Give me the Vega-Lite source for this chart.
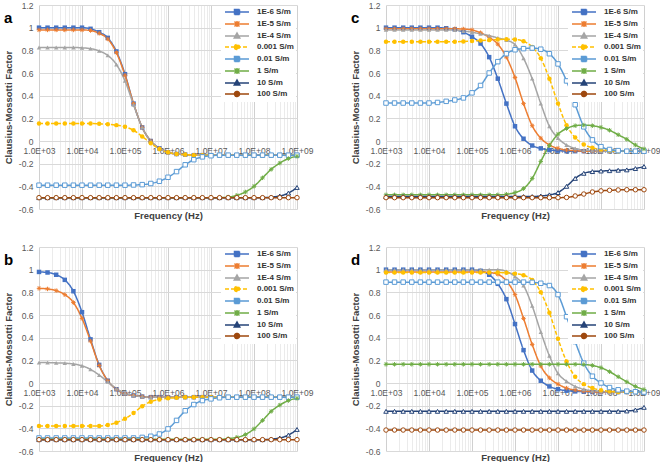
{
"$schema": "https://vega.github.io/schema/vega-lite/v6.json",
"padding": {"left": 3, "top": 1, "right": 0, "bottom": 0},
"background": "white",
"config": {
  "font": "Liberation Sans",
  "view": {"stroke": null},
  "axis": {"labelFontSize": 8.5, "labelColor": "#595959", "titleFontSize": 9.5, "titleFontWeight": "bold", "titleColor": "#404040", "ticks": false, "labelFont": "Liberation Sans", "titleFont": "Liberation Sans", "labelOverlap": false},
  "legend": {"orient": "top-right", "offset": 1, "fillColor": "white", "padding": 2, "labelFontSize": 8, "labelFontWeight": "bold", "labelColor": "#333333", "labelFont": "Liberation Sans", "symbolSize": 25, "symbolOffset": 10, "labelOffset": 16, "rowPadding": 0, "symbolStrokeWidth": 1.5},
  "title": {"anchor": "start", "frame": "group", "offset": -4, "baseline": "alphabetic", "fontSize": 15, "fontWeight": "bold", "color": "#000000", "font": "Liberation Sans"}
},
"datasets": {
"a": [
{"s":"1E-6","f":1e3,"v":1},{"s":"1E-6","f":1.58e3,"v":1},{"s":"1E-6","f":2.51e3,"v":1},{"s":"1E-6","f":3.98e3,"v":1},{"s":"1E-6","f":6.31e3,"v":1},{"s":"1E-6","f":1e4,"v":1},{"s":"1E-6","f":1.58e4,"v":0.99},{"s":"1E-6","f":2.51e4,"v":0.96},{"s":"1E-6","f":3.98e4,"v":0.91},{"s":"1E-6","f":6.31e4,"v":0.79},{"s":"1E-6","f":1e5,"v":0.59},{"s":"1E-6","f":1.58e5,"v":0.33},{"s":"1E-6","f":2.51e5,"v":0.12},{"s":"1E-6","f":3.98e5,"v":0},{"s":"1E-6","f":6.31e5,"v":-0.065},{"s":"1E-6","f":1e6,"v":-0.1},{"s":"1E-6","f":1.58e6,"v":-0.115},{"s":"1E-6","f":2.51e6,"v":-0.12},{"s":"1E-6","f":3.98e6,"v":-0.125},{"s":"1E-6","f":6.31e6,"v":-0.125},{"s":"1E-6","f":1e7,"v":-0.125},{"s":"1E-6","f":1.58e7,"v":-0.125},{"s":"1E-6","f":2.51e7,"v":-0.125},{"s":"1E-6","f":3.98e7,"v":-0.125},{"s":"1E-6","f":6.31e7,"v":-0.125},{"s":"1E-6","f":1e8,"v":-0.125},{"s":"1E-6","f":1.58e8,"v":-0.125},{"s":"1E-6","f":2.51e8,"v":-0.125},{"s":"1E-6","f":3.98e8,"v":-0.125},{"s":"1E-6","f":6.31e8,"v":-0.125},{"s":"1E-6","f":1e9,"v":-0.125},
{"s":"1E-5","f":1e3,"v":0.98},{"s":"1E-5","f":1.58e3,"v":0.98},{"s":"1E-5","f":2.51e3,"v":0.98},{"s":"1E-5","f":3.98e3,"v":0.98},{"s":"1E-5","f":6.31e3,"v":0.98},{"s":"1E-5","f":1e4,"v":0.98},{"s":"1E-5","f":1.58e4,"v":0.975},{"s":"1E-5","f":2.51e4,"v":0.95},{"s":"1E-5","f":3.98e4,"v":0.9},{"s":"1E-5","f":6.31e4,"v":0.78},{"s":"1E-5","f":1e5,"v":0.58},{"s":"1E-5","f":1.58e5,"v":0.33},{"s":"1E-5","f":2.51e5,"v":0.12},{"s":"1E-5","f":3.98e5,"v":0},{"s":"1E-5","f":6.31e5,"v":-0.065},{"s":"1E-5","f":1e6,"v":-0.1},{"s":"1E-5","f":1.58e6,"v":-0.115},{"s":"1E-5","f":2.51e6,"v":-0.12},{"s":"1E-5","f":3.98e6,"v":-0.125},{"s":"1E-5","f":6.31e6,"v":-0.125},{"s":"1E-5","f":1e7,"v":-0.125},{"s":"1E-5","f":1.58e7,"v":-0.125},{"s":"1E-5","f":2.51e7,"v":-0.125},{"s":"1E-5","f":3.98e7,"v":-0.125},{"s":"1E-5","f":6.31e7,"v":-0.125},{"s":"1E-5","f":1e8,"v":-0.125},{"s":"1E-5","f":1.58e8,"v":-0.125},{"s":"1E-5","f":2.51e8,"v":-0.125},{"s":"1E-5","f":3.98e8,"v":-0.125},{"s":"1E-5","f":6.31e8,"v":-0.125},{"s":"1E-5","f":1e9,"v":-0.125},
{"s":"1E-4","f":1e3,"v":0.825},{"s":"1E-4","f":1.58e3,"v":0.825},{"s":"1E-4","f":2.51e3,"v":0.825},{"s":"1E-4","f":3.98e3,"v":0.825},{"s":"1E-4","f":6.31e3,"v":0.825},{"s":"1E-4","f":1e4,"v":0.822},{"s":"1E-4","f":1.58e4,"v":0.815},{"s":"1E-4","f":2.51e4,"v":0.795},{"s":"1E-4","f":3.98e4,"v":0.755},{"s":"1E-4","f":6.31e4,"v":0.675},{"s":"1E-4","f":1e5,"v":0.53},{"s":"1E-4","f":1.58e5,"v":0.32},{"s":"1E-4","f":2.51e5,"v":0.12},{"s":"1E-4","f":3.98e5,"v":0},{"s":"1E-4","f":6.31e5,"v":-0.065},{"s":"1E-4","f":1e6,"v":-0.1},{"s":"1E-4","f":1.58e6,"v":-0.115},{"s":"1E-4","f":2.51e6,"v":-0.12},{"s":"1E-4","f":3.98e6,"v":-0.125},{"s":"1E-4","f":6.31e6,"v":-0.125},{"s":"1E-4","f":1e7,"v":-0.125},{"s":"1E-4","f":1.58e7,"v":-0.125},{"s":"1E-4","f":2.51e7,"v":-0.125},{"s":"1E-4","f":3.98e7,"v":-0.125},{"s":"1E-4","f":6.31e7,"v":-0.125},{"s":"1E-4","f":1e8,"v":-0.125},{"s":"1E-4","f":1.58e8,"v":-0.125},{"s":"1E-4","f":2.51e8,"v":-0.125},{"s":"1E-4","f":3.98e8,"v":-0.125},{"s":"1E-4","f":6.31e8,"v":-0.125},{"s":"1E-4","f":1e9,"v":-0.125},
{"s":"0.001","f":1e3,"v":0.155},{"s":"0.001","f":1.58e3,"v":0.155},{"s":"0.001","f":2.51e3,"v":0.155},{"s":"0.001","f":3.98e3,"v":0.155},{"s":"0.001","f":6.31e3,"v":0.155},{"s":"0.001","f":1e4,"v":0.155},{"s":"0.001","f":1.58e4,"v":0.155},{"s":"0.001","f":2.51e4,"v":0.152},{"s":"0.001","f":3.98e4,"v":0.148},{"s":"0.001","f":6.31e4,"v":0.14},{"s":"0.001","f":1e5,"v":0.125},{"s":"0.001","f":1.58e5,"v":0.095},{"s":"0.001","f":2.51e5,"v":0.04},{"s":"0.001","f":3.98e5,"v":-0.02},{"s":"0.001","f":6.31e5,"v":-0.07},{"s":"0.001","f":1e6,"v":-0.1},{"s":"0.001","f":1.58e6,"v":-0.115},{"s":"0.001","f":2.51e6,"v":-0.12},{"s":"0.001","f":3.98e6,"v":-0.125},{"s":"0.001","f":6.31e6,"v":-0.125},{"s":"0.001","f":1e7,"v":-0.125},{"s":"0.001","f":1.58e7,"v":-0.125},{"s":"0.001","f":2.51e7,"v":-0.125},{"s":"0.001","f":3.98e7,"v":-0.125},{"s":"0.001","f":6.31e7,"v":-0.125},{"s":"0.001","f":1e8,"v":-0.125},{"s":"0.001","f":1.58e8,"v":-0.125},{"s":"0.001","f":2.51e8,"v":-0.125},{"s":"0.001","f":3.98e8,"v":-0.125},{"s":"0.001","f":6.31e8,"v":-0.125},{"s":"0.001","f":1e9,"v":-0.125},
{"s":"0.01","f":1e3,"v":-0.39},{"s":"0.01","f":1.58e3,"v":-0.39},{"s":"0.01","f":2.51e3,"v":-0.39},{"s":"0.01","f":3.98e3,"v":-0.39},{"s":"0.01","f":6.31e3,"v":-0.39},{"s":"0.01","f":1e4,"v":-0.39},{"s":"0.01","f":1.58e4,"v":-0.39},{"s":"0.01","f":2.51e4,"v":-0.39},{"s":"0.01","f":3.98e4,"v":-0.39},{"s":"0.01","f":6.31e4,"v":-0.39},{"s":"0.01","f":1e5,"v":-0.39},{"s":"0.01","f":1.58e5,"v":-0.388},{"s":"0.01","f":2.51e5,"v":-0.385},{"s":"0.01","f":3.98e5,"v":-0.375},{"s":"0.01","f":6.31e5,"v":-0.355},{"s":"0.01","f":1e6,"v":-0.32},{"s":"0.01","f":1.58e6,"v":-0.27},{"s":"0.01","f":2.51e6,"v":-0.21},{"s":"0.01","f":3.98e6,"v":-0.165},{"s":"0.01","f":6.31e6,"v":-0.14},{"s":"0.01","f":1e7,"v":-0.13},{"s":"0.01","f":1.58e7,"v":-0.125},{"s":"0.01","f":2.51e7,"v":-0.125},{"s":"0.01","f":3.98e7,"v":-0.125},{"s":"0.01","f":6.31e7,"v":-0.125},{"s":"0.01","f":1e8,"v":-0.125},{"s":"0.01","f":1.58e8,"v":-0.125},{"s":"0.01","f":2.51e8,"v":-0.125},{"s":"0.01","f":3.98e8,"v":-0.125},{"s":"0.01","f":6.31e8,"v":-0.125},{"s":"0.01","f":1e9,"v":-0.125},
{"s":"1","f":1e3,"v":-0.5},{"s":"1","f":1.58e3,"v":-0.5},{"s":"1","f":2.51e3,"v":-0.5},{"s":"1","f":3.98e3,"v":-0.5},{"s":"1","f":6.31e3,"v":-0.5},{"s":"1","f":1e4,"v":-0.5},{"s":"1","f":1.58e4,"v":-0.5},{"s":"1","f":2.51e4,"v":-0.5},{"s":"1","f":3.98e4,"v":-0.5},{"s":"1","f":6.31e4,"v":-0.5},{"s":"1","f":1e5,"v":-0.5},{"s":"1","f":1.58e5,"v":-0.5},{"s":"1","f":2.51e5,"v":-0.5},{"s":"1","f":3.98e5,"v":-0.5},{"s":"1","f":6.31e5,"v":-0.5},{"s":"1","f":1e6,"v":-0.5},{"s":"1","f":1.58e6,"v":-0.5},{"s":"1","f":2.51e6,"v":-0.5},{"s":"1","f":3.98e6,"v":-0.5},{"s":"1","f":6.31e6,"v":-0.5},{"s":"1","f":1e7,"v":-0.5},{"s":"1","f":1.58e7,"v":-0.5},{"s":"1","f":2.51e7,"v":-0.495},{"s":"1","f":3.98e7,"v":-0.48},{"s":"1","f":6.31e7,"v":-0.45},{"s":"1","f":1e8,"v":-0.4},{"s":"1","f":1.58e8,"v":-0.325},{"s":"1","f":2.51e8,"v":-0.25},{"s":"1","f":3.98e8,"v":-0.195},{"s":"1","f":6.31e8,"v":-0.155},{"s":"1","f":1e9,"v":-0.135},
{"s":"10","f":1e3,"v":-0.5},{"s":"10","f":1.58e3,"v":-0.5},{"s":"10","f":2.51e3,"v":-0.5},{"s":"10","f":3.98e3,"v":-0.5},{"s":"10","f":6.31e3,"v":-0.5},{"s":"10","f":1e4,"v":-0.5},{"s":"10","f":1.58e4,"v":-0.5},{"s":"10","f":2.51e4,"v":-0.5},{"s":"10","f":3.98e4,"v":-0.5},{"s":"10","f":6.31e4,"v":-0.5},{"s":"10","f":1e5,"v":-0.5},{"s":"10","f":1.58e5,"v":-0.5},{"s":"10","f":2.51e5,"v":-0.5},{"s":"10","f":3.98e5,"v":-0.5},{"s":"10","f":6.31e5,"v":-0.5},{"s":"10","f":1e6,"v":-0.5},{"s":"10","f":1.58e6,"v":-0.5},{"s":"10","f":2.51e6,"v":-0.5},{"s":"10","f":3.98e6,"v":-0.5},{"s":"10","f":6.31e6,"v":-0.5},{"s":"10","f":1e7,"v":-0.5},{"s":"10","f":1.58e7,"v":-0.5},{"s":"10","f":2.51e7,"v":-0.5},{"s":"10","f":3.98e7,"v":-0.5},{"s":"10","f":6.31e7,"v":-0.5},{"s":"10","f":1e8,"v":-0.5},{"s":"10","f":1.58e8,"v":-0.5},{"s":"10","f":2.51e8,"v":-0.495},{"s":"10","f":3.98e8,"v":-0.485},{"s":"10","f":6.31e8,"v":-0.46},{"s":"10","f":1e9,"v":-0.41},
{"s":"100","f":1e3,"v":-0.5},{"s":"100","f":1.58e3,"v":-0.5},{"s":"100","f":2.51e3,"v":-0.5},{"s":"100","f":3.98e3,"v":-0.5},{"s":"100","f":6.31e3,"v":-0.5},{"s":"100","f":1e4,"v":-0.5},{"s":"100","f":1.58e4,"v":-0.5},{"s":"100","f":2.51e4,"v":-0.5},{"s":"100","f":3.98e4,"v":-0.5},{"s":"100","f":6.31e4,"v":-0.5},{"s":"100","f":1e5,"v":-0.5},{"s":"100","f":1.58e5,"v":-0.5},{"s":"100","f":2.51e5,"v":-0.5},{"s":"100","f":3.98e5,"v":-0.5},{"s":"100","f":6.31e5,"v":-0.5},{"s":"100","f":1e6,"v":-0.5},{"s":"100","f":1.58e6,"v":-0.5},{"s":"100","f":2.51e6,"v":-0.5},{"s":"100","f":3.98e6,"v":-0.5},{"s":"100","f":6.31e6,"v":-0.5},{"s":"100","f":1e7,"v":-0.5},{"s":"100","f":1.58e7,"v":-0.5},{"s":"100","f":2.51e7,"v":-0.5},{"s":"100","f":3.98e7,"v":-0.5},{"s":"100","f":6.31e7,"v":-0.5},{"s":"100","f":1e8,"v":-0.5},{"s":"100","f":1.58e8,"v":-0.5},{"s":"100","f":2.51e8,"v":-0.5},{"s":"100","f":3.98e8,"v":-0.5},{"s":"100","f":6.31e8,"v":-0.5},{"s":"100","f":1e9,"v":-0.5}
],
"b": [
{"s":"1E-6","f":1e3,"v":0.98},{"s":"1E-6","f":1.58e3,"v":0.975},{"s":"1E-6","f":2.51e3,"v":0.955},{"s":"1E-6","f":3.98e3,"v":0.91},{"s":"1E-6","f":6.31e3,"v":0.81},{"s":"1E-6","f":1e4,"v":0.625},{"s":"1E-6","f":1.58e4,"v":0.385},{"s":"1E-6","f":2.51e4,"v":0.16},{"s":"1E-6","f":3.98e4,"v":0.02},{"s":"1E-6","f":6.31e4,"v":-0.055},{"s":"1E-6","f":1e5,"v":-0.095},{"s":"1E-6","f":1.58e5,"v":-0.11},{"s":"1E-6","f":2.51e5,"v":-0.12},{"s":"1E-6","f":3.98e5,"v":-0.125},{"s":"1E-6","f":6.31e5,"v":-0.125},{"s":"1E-6","f":1e6,"v":-0.125},{"s":"1E-6","f":1.58e6,"v":-0.125},{"s":"1E-6","f":2.51e6,"v":-0.125},{"s":"1E-6","f":3.98e6,"v":-0.125},{"s":"1E-6","f":6.31e6,"v":-0.125},{"s":"1E-6","f":1e7,"v":-0.125},{"s":"1E-6","f":1.58e7,"v":-0.125},{"s":"1E-6","f":2.51e7,"v":-0.125},{"s":"1E-6","f":3.98e7,"v":-0.125},{"s":"1E-6","f":6.31e7,"v":-0.125},{"s":"1E-6","f":1e8,"v":-0.125},{"s":"1E-6","f":1.58e8,"v":-0.125},{"s":"1E-6","f":2.51e8,"v":-0.125},{"s":"1E-6","f":3.98e8,"v":-0.125},{"s":"1E-6","f":6.31e8,"v":-0.125},{"s":"1E-6","f":1e9,"v":-0.125},
{"s":"1E-5","f":1e3,"v":0.835},{"s":"1E-5","f":1.58e3,"v":0.83},{"s":"1E-5","f":2.51e3,"v":0.815},{"s":"1E-5","f":3.98e3,"v":0.78},{"s":"1E-5","f":6.31e3,"v":0.71},{"s":"1E-5","f":1e4,"v":0.57},{"s":"1E-5","f":1.58e4,"v":0.37},{"s":"1E-5","f":2.51e4,"v":0.155},{"s":"1E-5","f":3.98e4,"v":0.02},{"s":"1E-5","f":6.31e4,"v":-0.055},{"s":"1E-5","f":1e5,"v":-0.095},{"s":"1E-5","f":1.58e5,"v":-0.11},{"s":"1E-5","f":2.51e5,"v":-0.12},{"s":"1E-5","f":3.98e5,"v":-0.125},{"s":"1E-5","f":6.31e5,"v":-0.125},{"s":"1E-5","f":1e6,"v":-0.125},{"s":"1E-5","f":1.58e6,"v":-0.125},{"s":"1E-5","f":2.51e6,"v":-0.125},{"s":"1E-5","f":3.98e6,"v":-0.125},{"s":"1E-5","f":6.31e6,"v":-0.125},{"s":"1E-5","f":1e7,"v":-0.125},{"s":"1E-5","f":1.58e7,"v":-0.125},{"s":"1E-5","f":2.51e7,"v":-0.125},{"s":"1E-5","f":3.98e7,"v":-0.125},{"s":"1E-5","f":6.31e7,"v":-0.125},{"s":"1E-5","f":1e8,"v":-0.125},{"s":"1E-5","f":1.58e8,"v":-0.125},{"s":"1E-5","f":2.51e8,"v":-0.125},{"s":"1E-5","f":3.98e8,"v":-0.125},{"s":"1E-5","f":6.31e8,"v":-0.125},{"s":"1E-5","f":1e9,"v":-0.125},
{"s":"1E-4","f":1e3,"v":0.18},{"s":"1E-4","f":1.58e3,"v":0.18},{"s":"1E-4","f":2.51e3,"v":0.178},{"s":"1E-4","f":3.98e3,"v":0.175},{"s":"1E-4","f":6.31e3,"v":0.168},{"s":"1E-4","f":1e4,"v":0.152},{"s":"1E-4","f":1.58e4,"v":0.12},{"s":"1E-4","f":2.51e4,"v":0.07},{"s":"1E-4","f":3.98e4,"v":0.01},{"s":"1E-4","f":6.31e4,"v":-0.05},{"s":"1E-4","f":1e5,"v":-0.09},{"s":"1E-4","f":1.58e5,"v":-0.11},{"s":"1E-4","f":2.51e5,"v":-0.12},{"s":"1E-4","f":3.98e5,"v":-0.125},{"s":"1E-4","f":6.31e5,"v":-0.125},{"s":"1E-4","f":1e6,"v":-0.125},{"s":"1E-4","f":1.58e6,"v":-0.125},{"s":"1E-4","f":2.51e6,"v":-0.125},{"s":"1E-4","f":3.98e6,"v":-0.125},{"s":"1E-4","f":6.31e6,"v":-0.125},{"s":"1E-4","f":1e7,"v":-0.125},{"s":"1E-4","f":1.58e7,"v":-0.125},{"s":"1E-4","f":2.51e7,"v":-0.125},{"s":"1E-4","f":3.98e7,"v":-0.125},{"s":"1E-4","f":6.31e7,"v":-0.125},{"s":"1E-4","f":1e8,"v":-0.125},{"s":"1E-4","f":1.58e8,"v":-0.125},{"s":"1E-4","f":2.51e8,"v":-0.125},{"s":"1E-4","f":3.98e8,"v":-0.125},{"s":"1E-4","f":6.31e8,"v":-0.125},{"s":"1E-4","f":1e9,"v":-0.125},
{"s":"0.001","f":1e3,"v":-0.38},{"s":"0.001","f":1.58e3,"v":-0.38},{"s":"0.001","f":2.51e3,"v":-0.38},{"s":"0.001","f":3.98e3,"v":-0.38},{"s":"0.001","f":6.31e3,"v":-0.38},{"s":"0.001","f":1e4,"v":-0.38},{"s":"0.001","f":1.58e4,"v":-0.38},{"s":"0.001","f":2.51e4,"v":-0.38},{"s":"0.001","f":3.98e4,"v":-0.37},{"s":"0.001","f":6.31e4,"v":-0.35},{"s":"0.001","f":1e5,"v":-0.315},{"s":"0.001","f":1.58e5,"v":-0.265},{"s":"0.001","f":2.51e5,"v":-0.205},{"s":"0.001","f":3.98e5,"v":-0.165},{"s":"0.001","f":6.31e5,"v":-0.145},{"s":"0.001","f":1e6,"v":-0.135},{"s":"0.001","f":1.58e6,"v":-0.13},{"s":"0.001","f":2.51e6,"v":-0.125},{"s":"0.001","f":3.98e6,"v":-0.125},{"s":"0.001","f":6.31e6,"v":-0.125},{"s":"0.001","f":1e7,"v":-0.125},{"s":"0.001","f":1.58e7,"v":-0.125},{"s":"0.001","f":2.51e7,"v":-0.125},{"s":"0.001","f":3.98e7,"v":-0.125},{"s":"0.001","f":6.31e7,"v":-0.125},{"s":"0.001","f":1e8,"v":-0.125},{"s":"0.001","f":1.58e8,"v":-0.125},{"s":"0.001","f":2.51e8,"v":-0.125},{"s":"0.001","f":3.98e8,"v":-0.125},{"s":"0.001","f":6.31e8,"v":-0.125},{"s":"0.001","f":1e9,"v":-0.125},
{"s":"0.01","f":1e3,"v":-0.485},{"s":"0.01","f":1.58e3,"v":-0.485},{"s":"0.01","f":2.51e3,"v":-0.485},{"s":"0.01","f":3.98e3,"v":-0.485},{"s":"0.01","f":6.31e3,"v":-0.485},{"s":"0.01","f":1e4,"v":-0.485},{"s":"0.01","f":1.58e4,"v":-0.485},{"s":"0.01","f":2.51e4,"v":-0.485},{"s":"0.01","f":3.98e4,"v":-0.485},{"s":"0.01","f":6.31e4,"v":-0.485},{"s":"0.01","f":1e5,"v":-0.485},{"s":"0.01","f":1.58e5,"v":-0.485},{"s":"0.01","f":2.51e5,"v":-0.48},{"s":"0.01","f":3.98e5,"v":-0.47},{"s":"0.01","f":6.31e5,"v":-0.45},{"s":"0.01","f":1e6,"v":-0.405},{"s":"0.01","f":1.58e6,"v":-0.33},{"s":"0.01","f":2.51e6,"v":-0.245},{"s":"0.01","f":3.98e6,"v":-0.19},{"s":"0.01","f":6.31e6,"v":-0.155},{"s":"0.01","f":1e7,"v":-0.14},{"s":"0.01","f":1.58e7,"v":-0.13},{"s":"0.01","f":2.51e7,"v":-0.125},{"s":"0.01","f":3.98e7,"v":-0.125},{"s":"0.01","f":6.31e7,"v":-0.125},{"s":"0.01","f":1e8,"v":-0.125},{"s":"0.01","f":1.58e8,"v":-0.125},{"s":"0.01","f":2.51e8,"v":-0.125},{"s":"0.01","f":3.98e8,"v":-0.125},{"s":"0.01","f":6.31e8,"v":-0.125},{"s":"0.01","f":1e9,"v":-0.125},
{"s":"1","f":1e3,"v":-0.497},{"s":"1","f":1.58e3,"v":-0.497},{"s":"1","f":2.51e3,"v":-0.497},{"s":"1","f":3.98e3,"v":-0.497},{"s":"1","f":6.31e3,"v":-0.497},{"s":"1","f":1e4,"v":-0.497},{"s":"1","f":1.58e4,"v":-0.497},{"s":"1","f":2.51e4,"v":-0.497},{"s":"1","f":3.98e4,"v":-0.497},{"s":"1","f":6.31e4,"v":-0.497},{"s":"1","f":1e5,"v":-0.497},{"s":"1","f":1.58e5,"v":-0.497},{"s":"1","f":2.51e5,"v":-0.497},{"s":"1","f":3.98e5,"v":-0.497},{"s":"1","f":6.31e5,"v":-0.497},{"s":"1","f":1e6,"v":-0.497},{"s":"1","f":1.58e6,"v":-0.497},{"s":"1","f":2.51e6,"v":-0.497},{"s":"1","f":3.98e6,"v":-0.497},{"s":"1","f":6.31e6,"v":-0.497},{"s":"1","f":1e7,"v":-0.497},{"s":"1","f":1.58e7,"v":-0.497},{"s":"1","f":2.51e7,"v":-0.49},{"s":"1","f":3.98e7,"v":-0.48},{"s":"1","f":6.31e7,"v":-0.455},{"s":"1","f":1e8,"v":-0.405},{"s":"1","f":1.58e8,"v":-0.33},{"s":"1","f":2.51e8,"v":-0.25},{"s":"1","f":3.98e8,"v":-0.195},{"s":"1","f":6.31e8,"v":-0.155},{"s":"1","f":1e9,"v":-0.135},
{"s":"10","f":1e3,"v":-0.5},{"s":"10","f":1.58e3,"v":-0.5},{"s":"10","f":2.51e3,"v":-0.5},{"s":"10","f":3.98e3,"v":-0.5},{"s":"10","f":6.31e3,"v":-0.5},{"s":"10","f":1e4,"v":-0.5},{"s":"10","f":1.58e4,"v":-0.5},{"s":"10","f":2.51e4,"v":-0.5},{"s":"10","f":3.98e4,"v":-0.5},{"s":"10","f":6.31e4,"v":-0.5},{"s":"10","f":1e5,"v":-0.5},{"s":"10","f":1.58e5,"v":-0.5},{"s":"10","f":2.51e5,"v":-0.5},{"s":"10","f":3.98e5,"v":-0.5},{"s":"10","f":6.31e5,"v":-0.5},{"s":"10","f":1e6,"v":-0.5},{"s":"10","f":1.58e6,"v":-0.5},{"s":"10","f":2.51e6,"v":-0.5},{"s":"10","f":3.98e6,"v":-0.5},{"s":"10","f":6.31e6,"v":-0.5},{"s":"10","f":1e7,"v":-0.5},{"s":"10","f":1.58e7,"v":-0.5},{"s":"10","f":2.51e7,"v":-0.5},{"s":"10","f":3.98e7,"v":-0.5},{"s":"10","f":6.31e7,"v":-0.5},{"s":"10","f":1e8,"v":-0.5},{"s":"10","f":1.58e8,"v":-0.5},{"s":"10","f":2.51e8,"v":-0.495},{"s":"10","f":3.98e8,"v":-0.485},{"s":"10","f":6.31e8,"v":-0.46},{"s":"10","f":1e9,"v":-0.41},
{"s":"100","f":1e3,"v":-0.5},{"s":"100","f":1.58e3,"v":-0.5},{"s":"100","f":2.51e3,"v":-0.5},{"s":"100","f":3.98e3,"v":-0.5},{"s":"100","f":6.31e3,"v":-0.5},{"s":"100","f":1e4,"v":-0.5},{"s":"100","f":1.58e4,"v":-0.5},{"s":"100","f":2.51e4,"v":-0.5},{"s":"100","f":3.98e4,"v":-0.5},{"s":"100","f":6.31e4,"v":-0.5},{"s":"100","f":1e5,"v":-0.5},{"s":"100","f":1.58e5,"v":-0.5},{"s":"100","f":2.51e5,"v":-0.5},{"s":"100","f":3.98e5,"v":-0.5},{"s":"100","f":6.31e5,"v":-0.5},{"s":"100","f":1e6,"v":-0.5},{"s":"100","f":1.58e6,"v":-0.5},{"s":"100","f":2.51e6,"v":-0.5},{"s":"100","f":3.98e6,"v":-0.5},{"s":"100","f":6.31e6,"v":-0.5},{"s":"100","f":1e7,"v":-0.5},{"s":"100","f":1.58e7,"v":-0.5},{"s":"100","f":2.51e7,"v":-0.5},{"s":"100","f":3.98e7,"v":-0.5},{"s":"100","f":6.31e7,"v":-0.5},{"s":"100","f":1e8,"v":-0.5},{"s":"100","f":1.58e8,"v":-0.5},{"s":"100","f":2.51e8,"v":-0.5},{"s":"100","f":3.98e8,"v":-0.5},{"s":"100","f":6.31e8,"v":-0.5},{"s":"100","f":1e9,"v":-0.5}
],
"c": [
{"s":"1E-6","f":1e3,"v":1},{"s":"1E-6","f":1.58e3,"v":1},{"s":"1E-6","f":2.51e3,"v":1},{"s":"1E-6","f":3.98e3,"v":1},{"s":"1E-6","f":6.31e3,"v":1},{"s":"1E-6","f":1e4,"v":1},{"s":"1E-6","f":1.58e4,"v":1},{"s":"1E-6","f":2.51e4,"v":0.995},{"s":"1E-6","f":3.98e4,"v":0.985},{"s":"1E-6","f":6.31e4,"v":0.96},{"s":"1E-6","f":1e5,"v":0.92},{"s":"1E-6","f":1.58e5,"v":0.86},{"s":"1E-6","f":2.51e5,"v":0.74},{"s":"1E-6","f":3.98e5,"v":0.55},{"s":"1E-6","f":6.31e5,"v":0.33},{"s":"1E-6","f":1e6,"v":0.13},{"s":"1E-6","f":1.58e6,"v":0.02},{"s":"1E-6","f":2.51e6,"v":-0.04},{"s":"1E-6","f":3.98e6,"v":-0.065},{"s":"1E-6","f":6.31e6,"v":-0.08},{"s":"1E-6","f":1e7,"v":-0.085},{"s":"1E-6","f":1.58e7,"v":-0.09},{"s":"1E-6","f":2.51e7,"v":-0.09},{"s":"1E-6","f":3.98e7,"v":-0.09},{"s":"1E-6","f":6.31e7,"v":-0.09},{"s":"1E-6","f":1e8,"v":-0.09},{"s":"1E-6","f":1.58e8,"v":-0.09},{"s":"1E-6","f":2.51e8,"v":-0.09},{"s":"1E-6","f":3.98e8,"v":-0.09},{"s":"1E-6","f":6.31e8,"v":-0.09},{"s":"1E-6","f":1e9,"v":-0.09},
{"s":"1E-5","f":1e3,"v":0.99},{"s":"1E-5","f":1.58e3,"v":0.99},{"s":"1E-5","f":2.51e3,"v":0.99},{"s":"1E-5","f":3.98e3,"v":0.99},{"s":"1E-5","f":6.31e3,"v":0.99},{"s":"1E-5","f":1e4,"v":0.99},{"s":"1E-5","f":1.58e4,"v":0.99},{"s":"1E-5","f":2.51e4,"v":0.99},{"s":"1E-5","f":3.98e4,"v":0.99},{"s":"1E-5","f":6.31e4,"v":0.988},{"s":"1E-5","f":1e5,"v":0.98},{"s":"1E-5","f":1.58e5,"v":0.955},{"s":"1E-5","f":2.51e5,"v":0.915},{"s":"1E-5","f":3.98e5,"v":0.855},{"s":"1E-5","f":6.31e5,"v":0.74},{"s":"1E-5","f":1e6,"v":0.56},{"s":"1E-5","f":1.58e6,"v":0.33},{"s":"1E-5","f":2.51e6,"v":0.135},{"s":"1E-5","f":3.98e6,"v":0.025},{"s":"1E-5","f":6.31e6,"v":-0.035},{"s":"1E-5","f":1e7,"v":-0.065},{"s":"1E-5","f":1.58e7,"v":-0.08},{"s":"1E-5","f":2.51e7,"v":-0.085},{"s":"1E-5","f":3.98e7,"v":-0.09},{"s":"1E-5","f":6.31e7,"v":-0.09},{"s":"1E-5","f":1e8,"v":-0.09},{"s":"1E-5","f":1.58e8,"v":-0.09},{"s":"1E-5","f":2.51e8,"v":-0.09},{"s":"1E-5","f":3.98e8,"v":-0.09},{"s":"1E-5","f":6.31e8,"v":-0.09},{"s":"1E-5","f":1e9,"v":-0.09},
{"s":"1E-4","f":1e3,"v":0.98},{"s":"1E-4","f":1.58e3,"v":0.98},{"s":"1E-4","f":2.51e3,"v":0.98},{"s":"1E-4","f":3.98e3,"v":0.98},{"s":"1E-4","f":6.31e3,"v":0.98},{"s":"1E-4","f":1e4,"v":0.98},{"s":"1E-4","f":1.58e4,"v":0.98},{"s":"1E-4","f":2.51e4,"v":0.98},{"s":"1E-4","f":3.98e4,"v":0.978},{"s":"1E-4","f":6.31e4,"v":0.97},{"s":"1E-4","f":1e5,"v":0.96},{"s":"1E-4","f":1.58e5,"v":0.945},{"s":"1E-4","f":2.51e5,"v":0.93},{"s":"1E-4","f":3.98e5,"v":0.91},{"s":"1E-4","f":6.31e5,"v":0.89},{"s":"1E-4","f":1e6,"v":0.85},{"s":"1E-4","f":1.58e6,"v":0.73},{"s":"1E-4","f":2.51e6,"v":0.55},{"s":"1E-4","f":3.98e6,"v":0.33},{"s":"1E-4","f":6.31e6,"v":0.13},{"s":"1E-4","f":1e7,"v":0.025},{"s":"1E-4","f":1.58e7,"v":-0.035},{"s":"1E-4","f":2.51e7,"v":-0.065},{"s":"1E-4","f":3.98e7,"v":-0.08},{"s":"1E-4","f":6.31e7,"v":-0.085},{"s":"1E-4","f":1e8,"v":-0.09},{"s":"1E-4","f":1.58e8,"v":-0.09},{"s":"1E-4","f":2.51e8,"v":-0.09},{"s":"1E-4","f":3.98e8,"v":-0.09},{"s":"1E-4","f":6.31e8,"v":-0.09},{"s":"1E-4","f":1e9,"v":-0.09},
{"s":"0.001","f":1e3,"v":0.875},{"s":"0.001","f":1.58e3,"v":0.875},{"s":"0.001","f":2.51e3,"v":0.875},{"s":"0.001","f":3.98e3,"v":0.875},{"s":"0.001","f":6.31e3,"v":0.875},{"s":"0.001","f":1e4,"v":0.875},{"s":"0.001","f":1.58e4,"v":0.875},{"s":"0.001","f":2.51e4,"v":0.875},{"s":"0.001","f":3.98e4,"v":0.875},{"s":"0.001","f":6.31e4,"v":0.878},{"s":"0.001","f":1e5,"v":0.882},{"s":"0.001","f":1.58e5,"v":0.886},{"s":"0.001","f":2.51e5,"v":0.89},{"s":"0.001","f":3.98e5,"v":0.895},{"s":"0.001","f":6.31e5,"v":0.898},{"s":"0.001","f":1e6,"v":0.895},{"s":"0.001","f":1.58e6,"v":0.88},{"s":"0.001","f":2.51e6,"v":0.83},{"s":"0.001","f":3.98e6,"v":0.73},{"s":"0.001","f":6.31e6,"v":0.55},{"s":"0.001","f":1e7,"v":0.33},{"s":"0.001","f":1.58e7,"v":0.14},{"s":"0.001","f":2.51e7,"v":0.03},{"s":"0.001","f":3.98e7,"v":-0.03},{"s":"0.001","f":6.31e7,"v":-0.06},{"s":"0.001","f":1e8,"v":-0.075},{"s":"0.001","f":1.58e8,"v":-0.085},{"s":"0.001","f":2.51e8,"v":-0.09},{"s":"0.001","f":3.98e8,"v":-0.09},{"s":"0.001","f":6.31e8,"v":-0.09},{"s":"0.001","f":1e9,"v":-0.09},
{"s":"0.01","f":1e3,"v":0.335},{"s":"0.01","f":1.58e3,"v":0.335},{"s":"0.01","f":2.51e3,"v":0.335},{"s":"0.01","f":3.98e3,"v":0.335},{"s":"0.01","f":6.31e3,"v":0.335},{"s":"0.01","f":1e4,"v":0.335},{"s":"0.01","f":1.58e4,"v":0.34},{"s":"0.01","f":2.51e4,"v":0.35},{"s":"0.01","f":3.98e4,"v":0.362},{"s":"0.01","f":6.31e4,"v":0.38},{"s":"0.01","f":1e5,"v":0.425},{"s":"0.01","f":1.58e5,"v":0.49},{"s":"0.01","f":2.51e5,"v":0.6},{"s":"0.01","f":3.98e5,"v":0.7},{"s":"0.01","f":6.31e5,"v":0.77},{"s":"0.01","f":1e6,"v":0.805},{"s":"0.01","f":1.58e6,"v":0.815},{"s":"0.01","f":2.51e6,"v":0.82},{"s":"0.01","f":3.98e6,"v":0.81},{"s":"0.01","f":6.31e6,"v":0.77},{"s":"0.01","f":1e7,"v":0.68},{"s":"0.01","f":1.58e7,"v":0.53},{"s":"0.01","f":2.51e7,"v":0.32},{"s":"0.01","f":3.98e7,"v":0.125},{"s":"0.01","f":6.31e7,"v":0.01},{"s":"0.01","f":1e8,"v":-0.05},{"s":"0.01","f":1.58e8,"v":-0.075},{"s":"0.01","f":2.51e8,"v":-0.085},{"s":"0.01","f":3.98e8,"v":-0.09},{"s":"0.01","f":6.31e8,"v":-0.09},{"s":"0.01","f":1e9,"v":-0.09},
{"s":"1","f":1e3,"v":-0.475},{"s":"1","f":1.58e3,"v":-0.475},{"s":"1","f":2.51e3,"v":-0.475},{"s":"1","f":3.98e3,"v":-0.475},{"s":"1","f":6.31e3,"v":-0.475},{"s":"1","f":1e4,"v":-0.475},{"s":"1","f":1.58e4,"v":-0.475},{"s":"1","f":2.51e4,"v":-0.475},{"s":"1","f":3.98e4,"v":-0.475},{"s":"1","f":6.31e4,"v":-0.475},{"s":"1","f":1e5,"v":-0.475},{"s":"1","f":1.58e5,"v":-0.475},{"s":"1","f":2.51e5,"v":-0.475},{"s":"1","f":3.98e5,"v":-0.475},{"s":"1","f":6.31e5,"v":-0.47},{"s":"1","f":1e6,"v":-0.455},{"s":"1","f":1.58e6,"v":-0.42},{"s":"1","f":2.51e6,"v":-0.33},{"s":"1","f":3.98e6,"v":-0.18},{"s":"1","f":6.31e6,"v":-0.04},{"s":"1","f":1e7,"v":0.06},{"s":"1","f":1.58e7,"v":0.11},{"s":"1","f":2.51e7,"v":0.135},{"s":"1","f":3.98e7,"v":0.14},{"s":"1","f":6.31e7,"v":0.135},{"s":"1","f":1e8,"v":0.12},{"s":"1","f":1.58e8,"v":0.095},{"s":"1","f":2.51e8,"v":0.055},{"s":"1","f":3.98e8,"v":0.015},{"s":"1","f":6.31e8,"v":-0.035},{"s":"1","f":1e9,"v":-0.07},
{"s":"10","f":1e3,"v":-0.49},{"s":"10","f":1.58e3,"v":-0.49},{"s":"10","f":2.51e3,"v":-0.49},{"s":"10","f":3.98e3,"v":-0.49},{"s":"10","f":6.31e3,"v":-0.49},{"s":"10","f":1e4,"v":-0.49},{"s":"10","f":1.58e4,"v":-0.49},{"s":"10","f":2.51e4,"v":-0.49},{"s":"10","f":3.98e4,"v":-0.49},{"s":"10","f":6.31e4,"v":-0.49},{"s":"10","f":1e5,"v":-0.49},{"s":"10","f":1.58e5,"v":-0.49},{"s":"10","f":2.51e5,"v":-0.49},{"s":"10","f":3.98e5,"v":-0.49},{"s":"10","f":6.31e5,"v":-0.49},{"s":"10","f":1e6,"v":-0.49},{"s":"10","f":1.58e6,"v":-0.49},{"s":"10","f":2.51e6,"v":-0.49},{"s":"10","f":3.98e6,"v":-0.485},{"s":"10","f":6.31e6,"v":-0.475},{"s":"10","f":1e7,"v":-0.455},{"s":"10","f":1.58e7,"v":-0.4},{"s":"10","f":2.51e7,"v":-0.33},{"s":"10","f":3.98e7,"v":-0.285},{"s":"10","f":6.31e7,"v":-0.27},{"s":"10","f":1e8,"v":-0.265},{"s":"10","f":1.58e8,"v":-0.262},{"s":"10","f":2.51e8,"v":-0.258},{"s":"10","f":3.98e8,"v":-0.255},{"s":"10","f":6.31e8,"v":-0.243},{"s":"10","f":1e9,"v":-0.225},
{"s":"100","f":1e3,"v":-0.5},{"s":"100","f":1.58e3,"v":-0.5},{"s":"100","f":2.51e3,"v":-0.5},{"s":"100","f":3.98e3,"v":-0.5},{"s":"100","f":6.31e3,"v":-0.5},{"s":"100","f":1e4,"v":-0.5},{"s":"100","f":1.58e4,"v":-0.5},{"s":"100","f":2.51e4,"v":-0.5},{"s":"100","f":3.98e4,"v":-0.5},{"s":"100","f":6.31e4,"v":-0.5},{"s":"100","f":1e5,"v":-0.5},{"s":"100","f":1.58e5,"v":-0.5},{"s":"100","f":2.51e5,"v":-0.5},{"s":"100","f":3.98e5,"v":-0.5},{"s":"100","f":6.31e5,"v":-0.5},{"s":"100","f":1e6,"v":-0.5},{"s":"100","f":1.58e6,"v":-0.5},{"s":"100","f":2.51e6,"v":-0.5},{"s":"100","f":3.98e6,"v":-0.5},{"s":"100","f":6.31e6,"v":-0.5},{"s":"100","f":1e7,"v":-0.5},{"s":"100","f":1.58e7,"v":-0.498},{"s":"100","f":2.51e7,"v":-0.485},{"s":"100","f":3.98e7,"v":-0.468},{"s":"100","f":6.31e7,"v":-0.45},{"s":"100","f":1e8,"v":-0.44},{"s":"100","f":1.58e8,"v":-0.435},{"s":"100","f":2.51e8,"v":-0.432},{"s":"100","f":3.98e8,"v":-0.43},{"s":"100","f":6.31e8,"v":-0.43},{"s":"100","f":1e9,"v":-0.43}
],
"d": [
{"s":"1E-6","f":1e3,"v":1},{"s":"1E-6","f":1.58e3,"v":1},{"s":"1E-6","f":2.51e3,"v":1},{"s":"1E-6","f":3.98e3,"v":1},{"s":"1E-6","f":6.31e3,"v":1},{"s":"1E-6","f":1e4,"v":1},{"s":"1E-6","f":1.58e4,"v":1},{"s":"1E-6","f":2.51e4,"v":1},{"s":"1E-6","f":3.98e4,"v":1},{"s":"1E-6","f":6.31e4,"v":1},{"s":"1E-6","f":1e5,"v":1},{"s":"1E-6","f":1.58e5,"v":0.99},{"s":"1E-6","f":2.51e5,"v":0.955},{"s":"1E-6","f":3.98e5,"v":0.875},{"s":"1E-6","f":6.31e5,"v":0.74},{"s":"1E-6","f":1e6,"v":0.52},{"s":"1E-6","f":1.58e6,"v":0.29},{"s":"1E-6","f":2.51e6,"v":0.11},{"s":"1E-6","f":3.98e6,"v":0.02},{"s":"1E-6","f":6.31e6,"v":-0.03},{"s":"1E-6","f":1e7,"v":-0.055},{"s":"1E-6","f":1.58e7,"v":-0.068},{"s":"1E-6","f":2.51e7,"v":-0.074},{"s":"1E-6","f":3.98e7,"v":-0.077},{"s":"1E-6","f":6.31e7,"v":-0.08},{"s":"1E-6","f":1e8,"v":-0.08},{"s":"1E-6","f":1.58e8,"v":-0.08},{"s":"1E-6","f":2.51e8,"v":-0.08},{"s":"1E-6","f":3.98e8,"v":-0.08},{"s":"1E-6","f":6.31e8,"v":-0.08},{"s":"1E-6","f":1e9,"v":-0.08},
{"s":"1E-5","f":1e3,"v":0.98},{"s":"1E-5","f":1.58e3,"v":0.98},{"s":"1E-5","f":2.51e3,"v":0.98},{"s":"1E-5","f":3.98e3,"v":0.98},{"s":"1E-5","f":6.31e3,"v":0.98},{"s":"1E-5","f":1e4,"v":0.98},{"s":"1E-5","f":1.58e4,"v":0.98},{"s":"1E-5","f":2.51e4,"v":0.98},{"s":"1E-5","f":3.98e4,"v":0.98},{"s":"1E-5","f":6.31e4,"v":0.98},{"s":"1E-5","f":1e5,"v":0.98},{"s":"1E-5","f":1.58e5,"v":0.98},{"s":"1E-5","f":2.51e5,"v":0.975},{"s":"1E-5","f":3.98e5,"v":0.96},{"s":"1E-5","f":6.31e5,"v":0.9},{"s":"1E-5","f":1e6,"v":0.78},{"s":"1E-5","f":1.58e6,"v":0.57},{"s":"1E-5","f":2.51e6,"v":0.34},{"s":"1E-5","f":3.98e6,"v":0.15},{"s":"1E-5","f":6.31e6,"v":0.045},{"s":"1E-5","f":1e7,"v":-0.01},{"s":"1E-5","f":1.58e7,"v":-0.045},{"s":"1E-5","f":2.51e7,"v":-0.062},{"s":"1E-5","f":3.98e7,"v":-0.072},{"s":"1E-5","f":6.31e7,"v":-0.077},{"s":"1E-5","f":1e8,"v":-0.08},{"s":"1E-5","f":1.58e8,"v":-0.08},{"s":"1E-5","f":2.51e8,"v":-0.08},{"s":"1E-5","f":3.98e8,"v":-0.08},{"s":"1E-5","f":6.31e8,"v":-0.08},{"s":"1E-5","f":1e9,"v":-0.08},
{"s":"1E-4","f":1e3,"v":1},{"s":"1E-4","f":1.58e3,"v":1},{"s":"1E-4","f":2.51e3,"v":1},{"s":"1E-4","f":3.98e3,"v":1},{"s":"1E-4","f":6.31e3,"v":1},{"s":"1E-4","f":1e4,"v":1},{"s":"1E-4","f":1.58e4,"v":1},{"s":"1E-4","f":2.51e4,"v":1},{"s":"1E-4","f":3.98e4,"v":1},{"s":"1E-4","f":6.31e4,"v":1},{"s":"1E-4","f":1e5,"v":1},{"s":"1E-4","f":1.58e5,"v":1},{"s":"1E-4","f":2.51e5,"v":1},{"s":"1E-4","f":3.98e5,"v":1},{"s":"1E-4","f":6.31e5,"v":0.985},{"s":"1E-4","f":1e6,"v":0.94},{"s":"1E-4","f":1.58e6,"v":0.86},{"s":"1E-4","f":2.51e6,"v":0.68},{"s":"1E-4","f":3.98e6,"v":0.45},{"s":"1E-4","f":6.31e6,"v":0.24},{"s":"1E-4","f":1e7,"v":0.085},{"s":"1E-4","f":1.58e7,"v":0.015},{"s":"1E-4","f":2.51e7,"v":-0.03},{"s":"1E-4","f":3.98e7,"v":-0.055},{"s":"1E-4","f":6.31e7,"v":-0.068},{"s":"1E-4","f":1e8,"v":-0.075},{"s":"1E-4","f":1.58e8,"v":-0.08},{"s":"1E-4","f":2.51e8,"v":-0.08},{"s":"1E-4","f":3.98e8,"v":-0.08},{"s":"1E-4","f":6.31e8,"v":-0.08},{"s":"1E-4","f":1e9,"v":-0.08},
{"s":"0.001","f":1e3,"v":0.975},{"s":"0.001","f":1.58e3,"v":0.975},{"s":"0.001","f":2.51e3,"v":0.975},{"s":"0.001","f":3.98e3,"v":0.975},{"s":"0.001","f":6.31e3,"v":0.975},{"s":"0.001","f":1e4,"v":0.975},{"s":"0.001","f":1.58e4,"v":0.975},{"s":"0.001","f":2.51e4,"v":0.975},{"s":"0.001","f":3.98e4,"v":0.975},{"s":"0.001","f":6.31e4,"v":0.975},{"s":"0.001","f":1e5,"v":0.975},{"s":"0.001","f":1.58e5,"v":0.975},{"s":"0.001","f":2.51e5,"v":0.975},{"s":"0.001","f":3.98e5,"v":0.975},{"s":"0.001","f":6.31e5,"v":0.972},{"s":"0.001","f":1e6,"v":0.965},{"s":"0.001","f":1.58e6,"v":0.95},{"s":"0.001","f":2.51e6,"v":0.91},{"s":"0.001","f":3.98e6,"v":0.8},{"s":"0.001","f":6.31e6,"v":0.62},{"s":"0.001","f":1e7,"v":0.39},{"s":"0.001","f":1.58e7,"v":0.19},{"s":"0.001","f":2.51e7,"v":0.055},{"s":"0.001","f":3.98e7,"v":-0.01},{"s":"0.001","f":6.31e7,"v":-0.045},{"s":"0.001","f":1e8,"v":-0.063},{"s":"0.001","f":1.58e8,"v":-0.073},{"s":"0.001","f":2.51e8,"v":-0.08},{"s":"0.001","f":3.98e8,"v":-0.08},{"s":"0.001","f":6.31e8,"v":-0.08},{"s":"0.001","f":1e9,"v":-0.08},
{"s":"0.01","f":1e3,"v":0.89},{"s":"0.01","f":1.58e3,"v":0.89},{"s":"0.01","f":2.51e3,"v":0.89},{"s":"0.01","f":3.98e3,"v":0.89},{"s":"0.01","f":6.31e3,"v":0.89},{"s":"0.01","f":1e4,"v":0.89},{"s":"0.01","f":1.58e4,"v":0.89},{"s":"0.01","f":2.51e4,"v":0.89},{"s":"0.01","f":3.98e4,"v":0.89},{"s":"0.01","f":6.31e4,"v":0.89},{"s":"0.01","f":1e5,"v":0.89},{"s":"0.01","f":1.58e5,"v":0.89},{"s":"0.01","f":2.51e5,"v":0.89},{"s":"0.01","f":3.98e5,"v":0.89},{"s":"0.01","f":6.31e5,"v":0.89},{"s":"0.01","f":1e6,"v":0.89},{"s":"0.01","f":1.58e6,"v":0.89},{"s":"0.01","f":2.51e6,"v":0.888},{"s":"0.01","f":3.98e6,"v":0.88},{"s":"0.01","f":6.31e6,"v":0.86},{"s":"0.01","f":1e7,"v":0.78},{"s":"0.01","f":1.58e7,"v":0.585},{"s":"0.01","f":2.51e7,"v":0.365},{"s":"0.01","f":3.98e7,"v":0.175},{"s":"0.01","f":6.31e7,"v":0.06},{"s":"0.01","f":1e8,"v":0},{"s":"0.01","f":1.58e8,"v":-0.04},{"s":"0.01","f":2.51e8,"v":-0.06},{"s":"0.01","f":3.98e8,"v":-0.072},{"s":"0.01","f":6.31e8,"v":-0.077},{"s":"0.01","f":1e9,"v":-0.08},
{"s":"1","f":1e3,"v":0.165},{"s":"1","f":1.58e3,"v":0.165},{"s":"1","f":2.51e3,"v":0.165},{"s":"1","f":3.98e3,"v":0.165},{"s":"1","f":6.31e3,"v":0.165},{"s":"1","f":1e4,"v":0.165},{"s":"1","f":1.58e4,"v":0.165},{"s":"1","f":2.51e4,"v":0.165},{"s":"1","f":3.98e4,"v":0.165},{"s":"1","f":6.31e4,"v":0.165},{"s":"1","f":1e5,"v":0.165},{"s":"1","f":1.58e5,"v":0.165},{"s":"1","f":2.51e5,"v":0.165},{"s":"1","f":3.98e5,"v":0.165},{"s":"1","f":6.31e5,"v":0.165},{"s":"1","f":1e6,"v":0.165},{"s":"1","f":1.58e6,"v":0.165},{"s":"1","f":2.51e6,"v":0.165},{"s":"1","f":3.98e6,"v":0.165},{"s":"1","f":6.31e6,"v":0.165},{"s":"1","f":1e7,"v":0.165},{"s":"1","f":1.58e7,"v":0.165},{"s":"1","f":2.51e7,"v":0.165},{"s":"1","f":3.98e7,"v":0.163},{"s":"1","f":6.31e7,"v":0.155},{"s":"1","f":1e8,"v":0.135},{"s":"1","f":1.58e8,"v":0.1},{"s":"1","f":2.51e8,"v":0.055},{"s":"1","f":3.98e8,"v":0.01},{"s":"1","f":6.31e8,"v":-0.03},{"s":"1","f":1e9,"v":-0.058},
{"s":"10","f":1e3,"v":-0.25},{"s":"10","f":1.58e3,"v":-0.25},{"s":"10","f":2.51e3,"v":-0.25},{"s":"10","f":3.98e3,"v":-0.25},{"s":"10","f":6.31e3,"v":-0.25},{"s":"10","f":1e4,"v":-0.25},{"s":"10","f":1.58e4,"v":-0.25},{"s":"10","f":2.51e4,"v":-0.25},{"s":"10","f":3.98e4,"v":-0.25},{"s":"10","f":6.31e4,"v":-0.25},{"s":"10","f":1e5,"v":-0.25},{"s":"10","f":1.58e5,"v":-0.25},{"s":"10","f":2.51e5,"v":-0.25},{"s":"10","f":3.98e5,"v":-0.25},{"s":"10","f":6.31e5,"v":-0.25},{"s":"10","f":1e6,"v":-0.25},{"s":"10","f":1.58e6,"v":-0.25},{"s":"10","f":2.51e6,"v":-0.25},{"s":"10","f":3.98e6,"v":-0.25},{"s":"10","f":6.31e6,"v":-0.25},{"s":"10","f":1e7,"v":-0.25},{"s":"10","f":1.58e7,"v":-0.25},{"s":"10","f":2.51e7,"v":-0.25},{"s":"10","f":3.98e7,"v":-0.25},{"s":"10","f":6.31e7,"v":-0.25},{"s":"10","f":1e8,"v":-0.25},{"s":"10","f":1.58e8,"v":-0.25},{"s":"10","f":2.51e8,"v":-0.25},{"s":"10","f":3.98e8,"v":-0.247},{"s":"10","f":6.31e8,"v":-0.238},{"s":"10","f":1e9,"v":-0.215},
{"s":"100","f":1e3,"v":-0.415},{"s":"100","f":1.58e3,"v":-0.415},{"s":"100","f":2.51e3,"v":-0.415},{"s":"100","f":3.98e3,"v":-0.415},{"s":"100","f":6.31e3,"v":-0.415},{"s":"100","f":1e4,"v":-0.415},{"s":"100","f":1.58e4,"v":-0.415},{"s":"100","f":2.51e4,"v":-0.415},{"s":"100","f":3.98e4,"v":-0.415},{"s":"100","f":6.31e4,"v":-0.415},{"s":"100","f":1e5,"v":-0.415},{"s":"100","f":1.58e5,"v":-0.415},{"s":"100","f":2.51e5,"v":-0.415},{"s":"100","f":3.98e5,"v":-0.415},{"s":"100","f":6.31e5,"v":-0.415},{"s":"100","f":1e6,"v":-0.415},{"s":"100","f":1.58e6,"v":-0.415},{"s":"100","f":2.51e6,"v":-0.415},{"s":"100","f":3.98e6,"v":-0.415},{"s":"100","f":6.31e6,"v":-0.415},{"s":"100","f":1e7,"v":-0.415},{"s":"100","f":1.58e7,"v":-0.415},{"s":"100","f":2.51e7,"v":-0.415},{"s":"100","f":3.98e7,"v":-0.415},{"s":"100","f":6.31e7,"v":-0.415},{"s":"100","f":1e8,"v":-0.415},{"s":"100","f":1.58e8,"v":-0.415},{"s":"100","f":2.51e8,"v":-0.415},{"s":"100","f":3.98e8,"v":-0.415},{"s":"100","f":6.31e8,"v":-0.415},{"s":"100","f":1e9,"v":-0.415}
]
},
"columns": 2,
"spacing": {"row": 38, "column": 89},
"bounds": "flush",
"resolve": {"scale": {"x": "independent", "y": "independent", "color": "independent", "strokeDash": "independent"}, "legend": {"color": "independent", "strokeDash": "independent"}},
"concat": [
{"width":258,"height":204,"title":{"text":"a","dx":-35,"dy":21},"data":{"name":"a"},"layer":[
 {"mark":{"type":"line","strokeWidth":1.5,"interpolate":"monotone"},"encoding":{
  "x":{"field":"f","type":"quantitative","scale":{"type":"log","domain":[1000,1000000000],"nice":false},"axis":{"values":[1e3,2e3,3e3,4e3,5e3,6e3,7e3,8e3,9e3,1e4,2e4,3e4,4e4,5e4,6e4,7e4,8e4,9e4,1e5,2e5,3e5,4e5,5e5,6e5,7e5,8e5,9e5,1e6,2e6,3e6,4e6,5e6,6e6,7e6,8e6,9e6,1e7,2e7,3e7,4e7,5e7,6e7,7e7,8e7,9e7,1e8,2e8,3e8,4e8,5e8,6e8,7e8,8e8,9e8,1e9],"tickCount":100,"title":"Frequency (Hz)","offset":-68,"labelPadding":5,"titlePadding":56,"labelExpr":"abs(log(datum.value)/LN10-round(log(datum.value)/LN10))<0.001?'1.0E+0'+round(log(datum.value)/LN10):''","labelFlush":false,"labelBound":false,"domainColor":"#D9D9D9","gridColor":{"condition":{"test":"abs(log(datum.value)/LN10-round(log(datum.value)/LN10))<0.001","value":"#D0D0D0"},"value":"#EBEBEB"}}},
  "y":{"field":"v","type":"quantitative","scale":{"domain":[-0.6,1.2],"nice":false,"zero":false},"axis":{"values":[-0.6,-0.4,-0.2,0,0.2,0.4,0.6,0.8,1,1.2],"tickCount":20,"title":"Clausius-Mossotti Factor","labelExpr":"''+round(datum.value*10)/10","labelPadding":6,"titlePadding":5,"domain":false,"gridColor":"#D9D9D9"}},
  "color":{"field":"s","type":"nominal","scale":{"domain":["1E-6","1E-5","1E-4","0.001","0.01","1","10","100"],"range":["#4472C4","#ED7D31","#A5A5A5","#FFC000","#5B9BD5","#70AD47","#264478","#9E480E"]},"legend":{"title":null,"labelExpr":"datum.label+' S/m'","encoding":{"symbols":{"shape":{"value":{"expr":"indexof(['1E-6','0.01'],datum.value)>=0?'M-4.8,0H4.8M-1,-1H1V1H-1Z':indexof(['1E-5','1'],datum.value)>=0?'M-4.8,0H4.8M-1,-1L1,1M-1,1L1,-1M0,-1.2V1.2':indexof(['1E-4','10'],datum.value)>=0?'M-4.8,0H4.8M0,-1.2L1.1,0.8H-1.1Z':'M-4.8,0H4.8M-1,0A1,1,0,1,0,1,0A1,1,0,1,0,-1,0Z'"}},"stroke":{"value":{"expr":"datum.value=='1E-6'?'#4472C4':datum.value=='1E-5'?'#ED7D31':datum.value=='1E-4'?'#A5A5A5':datum.value=='0.001'?'#FFC000':datum.value=='0.01'?'#5B9BD5':datum.value=='1'?'#70AD47':datum.value=='10'?'#264478':'#9E480E'"}},"fill":{"value":{"expr":"indexof(['0.01','10','100'],datum.value)>=0?'white':(datum.value=='1E-6'?'#4472C4':datum.value=='1E-5'?'#ED7D31':datum.value=='1E-4'?'#A5A5A5':datum.value=='0.001'?'#FFC000':'#70AD47')"}},"strokeDash":{"value":{"expr":"datum.value=='0.001'?[3,1.5]:[1,0]"}},"size":{"value":25},"opacity":{"value":1},"strokeWidth":{"value":1.5}}}}},
  "strokeDash":{"field":"s","type":"nominal","scale":{"domain":["1E-6","1E-5","1E-4","0.001","0.01","1","10","100"],"range":[[1,0],[1,0],[1,0],[4,2],[1,0],[1,0],[1,0],[1,0]]},"legend":null}}},
 {"transform":[{"filter":"datum.s=='1E-6'"}],"mark":{"type":"point","shape":"square","filled":true,"size":20,"opacity":1},"encoding":{"x":{"field":"f","type":"quantitative"},"y":{"field":"v","type":"quantitative"},"color":{"field":"s","type":"nominal","legend":null}}},
 {"transform":[{"filter":"datum.s=='1E-5'"}],"mark":{"type":"point","shape":"M-1,0H1M0,-1V1M-0.7,-0.7L0.7,0.7M-0.7,0.7L0.7,-0.7","filled":false,"size":20,"opacity":1,"strokeWidth":1},"encoding":{"x":{"field":"f","type":"quantitative"},"y":{"field":"v","type":"quantitative"},"color":{"field":"s","type":"nominal","legend":null}}},
 {"transform":[{"filter":"datum.s=='1E-4'"}],"mark":{"type":"point","shape":"triangle-up","filled":true,"size":20,"opacity":1},"encoding":{"x":{"field":"f","type":"quantitative"},"y":{"field":"v","type":"quantitative"},"color":{"field":"s","type":"nominal","legend":null}}},
 {"transform":[{"filter":"datum.s=='0.001'"}],"mark":{"type":"point","shape":"circle","filled":true,"size":20,"opacity":1},"encoding":{"x":{"field":"f","type":"quantitative"},"y":{"field":"v","type":"quantitative"},"color":{"field":"s","type":"nominal","legend":null}}},
 {"transform":[{"filter":"datum.s=='0.01'"}],"mark":{"type":"point","shape":"square","filled":false,"fill":"white","size":20,"opacity":1,"strokeWidth":1},"encoding":{"x":{"field":"f","type":"quantitative"},"y":{"field":"v","type":"quantitative"},"color":{"field":"s","type":"nominal","legend":null}}},
 {"transform":[{"filter":"datum.s=='1'"}],"mark":{"type":"point","shape":"M-1,0H1M0,-1V1M-0.7,-0.7L0.7,0.7M-0.7,0.7L0.7,-0.7","filled":false,"size":20,"opacity":1,"strokeWidth":1},"encoding":{"x":{"field":"f","type":"quantitative"},"y":{"field":"v","type":"quantitative"},"color":{"field":"s","type":"nominal","legend":null}}},
 {"transform":[{"filter":"datum.s=='10'"}],"mark":{"type":"point","shape":"triangle-up","filled":false,"fill":"white","size":20,"opacity":1,"strokeWidth":1},"encoding":{"x":{"field":"f","type":"quantitative"},"y":{"field":"v","type":"quantitative"},"color":{"field":"s","type":"nominal","legend":null}}},
 {"transform":[{"filter":"datum.s=='100'"}],"mark":{"type":"point","shape":"circle","filled":false,"fill":"white","size":20,"opacity":1,"strokeWidth":1},"encoding":{"x":{"field":"f","type":"quantitative"},"y":{"field":"v","type":"quantitative"},"color":{"field":"s","type":"nominal","legend":null}}}
]},
{"width":258,"height":204,"title":{"text":"c","dx":-35,"dy":21},"data":{"name":"c"},"layer":[
 {"mark":{"type":"line","strokeWidth":1.5,"interpolate":"monotone"},"encoding":{
  "x":{"field":"f","type":"quantitative","scale":{"type":"log","domain":[1000,1000000000],"nice":false},"axis":{"values":[1e3,2e3,3e3,4e3,5e3,6e3,7e3,8e3,9e3,1e4,2e4,3e4,4e4,5e4,6e4,7e4,8e4,9e4,1e5,2e5,3e5,4e5,5e5,6e5,7e5,8e5,9e5,1e6,2e6,3e6,4e6,5e6,6e6,7e6,8e6,9e6,1e7,2e7,3e7,4e7,5e7,6e7,7e7,8e7,9e7,1e8,2e8,3e8,4e8,5e8,6e8,7e8,8e8,9e8,1e9],"tickCount":100,"title":"Frequency (Hz)","offset":-68,"labelPadding":5,"titlePadding":56,"labelExpr":"abs(log(datum.value)/LN10-round(log(datum.value)/LN10))<0.001?'1.0E+0'+round(log(datum.value)/LN10):''","labelFlush":false,"labelBound":false,"domainColor":"#D9D9D9","gridColor":{"condition":{"test":"abs(log(datum.value)/LN10-round(log(datum.value)/LN10))<0.001","value":"#D0D0D0"},"value":"#EBEBEB"}}},
  "y":{"field":"v","type":"quantitative","scale":{"domain":[-0.6,1.2],"nice":false,"zero":false},"axis":{"values":[-0.6,-0.4,-0.2,0,0.2,0.4,0.6,0.8,1,1.2],"tickCount":20,"title":"Clausius-Mossotti Factor","labelExpr":"''+round(datum.value*10)/10","labelPadding":6,"titlePadding":5,"domain":false,"gridColor":"#D9D9D9"}},
  "color":{"field":"s","type":"nominal","scale":{"domain":["1E-6","1E-5","1E-4","0.001","0.01","1","10","100"],"range":["#4472C4","#ED7D31","#A5A5A5","#FFC000","#5B9BD5","#70AD47","#264478","#9E480E"]},"legend":{"title":null,"labelExpr":"datum.label+' S/m'","encoding":{"symbols":{"shape":{"value":{"expr":"indexof(['1E-6','0.01'],datum.value)>=0?'M-4.8,0H4.8M-1,-1H1V1H-1Z':indexof(['1E-5','1'],datum.value)>=0?'M-4.8,0H4.8M-1,-1L1,1M-1,1L1,-1M0,-1.2V1.2':indexof(['1E-4','10'],datum.value)>=0?'M-4.8,0H4.8M0,-1.2L1.1,0.8H-1.1Z':'M-4.8,0H4.8M-1,0A1,1,0,1,0,1,0A1,1,0,1,0,-1,0Z'"}},"stroke":{"value":{"expr":"datum.value=='1E-6'?'#4472C4':datum.value=='1E-5'?'#ED7D31':datum.value=='1E-4'?'#A5A5A5':datum.value=='0.001'?'#FFC000':datum.value=='0.01'?'#5B9BD5':datum.value=='1'?'#70AD47':datum.value=='10'?'#264478':'#9E480E'"}},"fill":{"value":{"expr":"indexof(['0.01','10','100'],datum.value)>=0?'white':(datum.value=='1E-6'?'#4472C4':datum.value=='1E-5'?'#ED7D31':datum.value=='1E-4'?'#A5A5A5':datum.value=='0.001'?'#FFC000':'#70AD47')"}},"strokeDash":{"value":{"expr":"datum.value=='0.001'?[3,1.5]:[1,0]"}},"size":{"value":25},"opacity":{"value":1},"strokeWidth":{"value":1.5}}}}},
  "strokeDash":{"field":"s","type":"nominal","scale":{"domain":["1E-6","1E-5","1E-4","0.001","0.01","1","10","100"],"range":[[1,0],[1,0],[1,0],[4,2],[1,0],[1,0],[1,0],[1,0]]},"legend":null}}},
 {"transform":[{"filter":"datum.s=='1E-6'"}],"mark":{"type":"point","shape":"square","filled":true,"size":20,"opacity":1},"encoding":{"x":{"field":"f","type":"quantitative"},"y":{"field":"v","type":"quantitative"},"color":{"field":"s","type":"nominal","legend":null}}},
 {"transform":[{"filter":"datum.s=='1E-5'"}],"mark":{"type":"point","shape":"M-1,0H1M0,-1V1M-0.7,-0.7L0.7,0.7M-0.7,0.7L0.7,-0.7","filled":false,"size":20,"opacity":1,"strokeWidth":1},"encoding":{"x":{"field":"f","type":"quantitative"},"y":{"field":"v","type":"quantitative"},"color":{"field":"s","type":"nominal","legend":null}}},
 {"transform":[{"filter":"datum.s=='1E-4'"}],"mark":{"type":"point","shape":"triangle-up","filled":true,"size":20,"opacity":1},"encoding":{"x":{"field":"f","type":"quantitative"},"y":{"field":"v","type":"quantitative"},"color":{"field":"s","type":"nominal","legend":null}}},
 {"transform":[{"filter":"datum.s=='0.001'"}],"mark":{"type":"point","shape":"circle","filled":true,"size":20,"opacity":1},"encoding":{"x":{"field":"f","type":"quantitative"},"y":{"field":"v","type":"quantitative"},"color":{"field":"s","type":"nominal","legend":null}}},
 {"transform":[{"filter":"datum.s=='0.01'"}],"mark":{"type":"point","shape":"square","filled":false,"fill":"white","size":20,"opacity":1,"strokeWidth":1},"encoding":{"x":{"field":"f","type":"quantitative"},"y":{"field":"v","type":"quantitative"},"color":{"field":"s","type":"nominal","legend":null}}},
 {"transform":[{"filter":"datum.s=='1'"}],"mark":{"type":"point","shape":"M-1,0H1M0,-1V1M-0.7,-0.7L0.7,0.7M-0.7,0.7L0.7,-0.7","filled":false,"size":20,"opacity":1,"strokeWidth":1},"encoding":{"x":{"field":"f","type":"quantitative"},"y":{"field":"v","type":"quantitative"},"color":{"field":"s","type":"nominal","legend":null}}},
 {"transform":[{"filter":"datum.s=='10'"}],"mark":{"type":"point","shape":"triangle-up","filled":false,"fill":"white","size":20,"opacity":1,"strokeWidth":1},"encoding":{"x":{"field":"f","type":"quantitative"},"y":{"field":"v","type":"quantitative"},"color":{"field":"s","type":"nominal","legend":null}}},
 {"transform":[{"filter":"datum.s=='100'"}],"mark":{"type":"point","shape":"circle","filled":false,"fill":"white","size":20,"opacity":1,"strokeWidth":1},"encoding":{"x":{"field":"f","type":"quantitative"},"y":{"field":"v","type":"quantitative"},"color":{"field":"s","type":"nominal","legend":null}}}
]},
{"width":258,"height":204,"title":{"text":"b","dx":-35,"dy":21},"data":{"name":"b"},"layer":[
 {"mark":{"type":"line","strokeWidth":1.5,"interpolate":"monotone"},"encoding":{
  "x":{"field":"f","type":"quantitative","scale":{"type":"log","domain":[1000,1000000000],"nice":false},"axis":{"values":[1e3,2e3,3e3,4e3,5e3,6e3,7e3,8e3,9e3,1e4,2e4,3e4,4e4,5e4,6e4,7e4,8e4,9e4,1e5,2e5,3e5,4e5,5e5,6e5,7e5,8e5,9e5,1e6,2e6,3e6,4e6,5e6,6e6,7e6,8e6,9e6,1e7,2e7,3e7,4e7,5e7,6e7,7e7,8e7,9e7,1e8,2e8,3e8,4e8,5e8,6e8,7e8,8e8,9e8,1e9],"tickCount":100,"title":"Frequency (Hz)","offset":-68,"labelPadding":5,"titlePadding":56,"labelExpr":"abs(log(datum.value)/LN10-round(log(datum.value)/LN10))<0.001?'1.0E+0'+round(log(datum.value)/LN10):''","labelFlush":false,"labelBound":false,"domainColor":"#D9D9D9","gridColor":{"condition":{"test":"abs(log(datum.value)/LN10-round(log(datum.value)/LN10))<0.001","value":"#D0D0D0"},"value":"#EBEBEB"}}},
  "y":{"field":"v","type":"quantitative","scale":{"domain":[-0.6,1.2],"nice":false,"zero":false},"axis":{"values":[-0.6,-0.4,-0.2,0,0.2,0.4,0.6,0.8,1,1.2],"tickCount":20,"title":"Clausius-Mossotti Factor","labelExpr":"''+round(datum.value*10)/10","labelPadding":6,"titlePadding":5,"domain":false,"gridColor":"#D9D9D9"}},
  "color":{"field":"s","type":"nominal","scale":{"domain":["1E-6","1E-5","1E-4","0.001","0.01","1","10","100"],"range":["#4472C4","#ED7D31","#A5A5A5","#FFC000","#5B9BD5","#70AD47","#264478","#9E480E"]},"legend":{"title":null,"labelExpr":"datum.label+' S/m'","encoding":{"symbols":{"shape":{"value":{"expr":"indexof(['1E-6','0.01'],datum.value)>=0?'M-4.8,0H4.8M-1,-1H1V1H-1Z':indexof(['1E-5','1'],datum.value)>=0?'M-4.8,0H4.8M-1,-1L1,1M-1,1L1,-1M0,-1.2V1.2':indexof(['1E-4','10'],datum.value)>=0?'M-4.8,0H4.8M0,-1.2L1.1,0.8H-1.1Z':'M-4.8,0H4.8M-1,0A1,1,0,1,0,1,0A1,1,0,1,0,-1,0Z'"}},"stroke":{"value":{"expr":"datum.value=='1E-6'?'#4472C4':datum.value=='1E-5'?'#ED7D31':datum.value=='1E-4'?'#A5A5A5':datum.value=='0.001'?'#FFC000':datum.value=='0.01'?'#5B9BD5':datum.value=='1'?'#70AD47':datum.value=='10'?'#264478':'#9E480E'"}},"fill":{"value":{"expr":"indexof(['0.01','10','100'],datum.value)>=0?'white':(datum.value=='1E-6'?'#4472C4':datum.value=='1E-5'?'#ED7D31':datum.value=='1E-4'?'#A5A5A5':datum.value=='0.001'?'#FFC000':'#70AD47')"}},"strokeDash":{"value":{"expr":"datum.value=='0.001'?[3,1.5]:[1,0]"}},"size":{"value":25},"opacity":{"value":1},"strokeWidth":{"value":1.5}}}}},
  "strokeDash":{"field":"s","type":"nominal","scale":{"domain":["1E-6","1E-5","1E-4","0.001","0.01","1","10","100"],"range":[[1,0],[1,0],[1,0],[4,2],[1,0],[1,0],[1,0],[1,0]]},"legend":null}}},
 {"transform":[{"filter":"datum.s=='1E-6'"}],"mark":{"type":"point","shape":"square","filled":true,"size":20,"opacity":1},"encoding":{"x":{"field":"f","type":"quantitative"},"y":{"field":"v","type":"quantitative"},"color":{"field":"s","type":"nominal","legend":null}}},
 {"transform":[{"filter":"datum.s=='1E-5'"}],"mark":{"type":"point","shape":"M-1,0H1M0,-1V1M-0.7,-0.7L0.7,0.7M-0.7,0.7L0.7,-0.7","filled":false,"size":20,"opacity":1,"strokeWidth":1},"encoding":{"x":{"field":"f","type":"quantitative"},"y":{"field":"v","type":"quantitative"},"color":{"field":"s","type":"nominal","legend":null}}},
 {"transform":[{"filter":"datum.s=='1E-4'"}],"mark":{"type":"point","shape":"triangle-up","filled":true,"size":20,"opacity":1},"encoding":{"x":{"field":"f","type":"quantitative"},"y":{"field":"v","type":"quantitative"},"color":{"field":"s","type":"nominal","legend":null}}},
 {"transform":[{"filter":"datum.s=='0.001'"}],"mark":{"type":"point","shape":"circle","filled":true,"size":20,"opacity":1},"encoding":{"x":{"field":"f","type":"quantitative"},"y":{"field":"v","type":"quantitative"},"color":{"field":"s","type":"nominal","legend":null}}},
 {"transform":[{"filter":"datum.s=='0.01'"}],"mark":{"type":"point","shape":"square","filled":false,"fill":"white","size":20,"opacity":1,"strokeWidth":1},"encoding":{"x":{"field":"f","type":"quantitative"},"y":{"field":"v","type":"quantitative"},"color":{"field":"s","type":"nominal","legend":null}}},
 {"transform":[{"filter":"datum.s=='1'"}],"mark":{"type":"point","shape":"M-1,0H1M0,-1V1M-0.7,-0.7L0.7,0.7M-0.7,0.7L0.7,-0.7","filled":false,"size":20,"opacity":1,"strokeWidth":1},"encoding":{"x":{"field":"f","type":"quantitative"},"y":{"field":"v","type":"quantitative"},"color":{"field":"s","type":"nominal","legend":null}}},
 {"transform":[{"filter":"datum.s=='10'"}],"mark":{"type":"point","shape":"triangle-up","filled":false,"fill":"white","size":20,"opacity":1,"strokeWidth":1},"encoding":{"x":{"field":"f","type":"quantitative"},"y":{"field":"v","type":"quantitative"},"color":{"field":"s","type":"nominal","legend":null}}},
 {"transform":[{"filter":"datum.s=='100'"}],"mark":{"type":"point","shape":"circle","filled":false,"fill":"white","size":20,"opacity":1,"strokeWidth":1},"encoding":{"x":{"field":"f","type":"quantitative"},"y":{"field":"v","type":"quantitative"},"color":{"field":"s","type":"nominal","legend":null}}}
]},
{"width":258,"height":204,"title":{"text":"d","dx":-35,"dy":21},"data":{"name":"d"},"layer":[
 {"mark":{"type":"line","strokeWidth":1.5,"interpolate":"monotone"},"encoding":{
  "x":{"field":"f","type":"quantitative","scale":{"type":"log","domain":[1000,1000000000],"nice":false},"axis":{"values":[1e3,2e3,3e3,4e3,5e3,6e3,7e3,8e3,9e3,1e4,2e4,3e4,4e4,5e4,6e4,7e4,8e4,9e4,1e5,2e5,3e5,4e5,5e5,6e5,7e5,8e5,9e5,1e6,2e6,3e6,4e6,5e6,6e6,7e6,8e6,9e6,1e7,2e7,3e7,4e7,5e7,6e7,7e7,8e7,9e7,1e8,2e8,3e8,4e8,5e8,6e8,7e8,8e8,9e8,1e9],"tickCount":100,"title":"Frequency (Hz)","offset":-68,"labelPadding":5,"titlePadding":56,"labelExpr":"abs(log(datum.value)/LN10-round(log(datum.value)/LN10))<0.001?'1.0E+0'+round(log(datum.value)/LN10):''","labelFlush":false,"labelBound":false,"domainColor":"#D9D9D9","gridColor":{"condition":{"test":"abs(log(datum.value)/LN10-round(log(datum.value)/LN10))<0.001","value":"#D0D0D0"},"value":"#EBEBEB"}}},
  "y":{"field":"v","type":"quantitative","scale":{"domain":[-0.6,1.2],"nice":false,"zero":false},"axis":{"values":[-0.6,-0.4,-0.2,0,0.2,0.4,0.6,0.8,1,1.2],"tickCount":20,"title":"Clausius-Mossotti Factor","labelExpr":"''+round(datum.value*10)/10","labelPadding":6,"titlePadding":5,"domain":false,"gridColor":"#D9D9D9"}},
  "color":{"field":"s","type":"nominal","scale":{"domain":["1E-6","1E-5","1E-4","0.001","0.01","1","10","100"],"range":["#4472C4","#ED7D31","#A5A5A5","#FFC000","#5B9BD5","#70AD47","#264478","#9E480E"]},"legend":{"title":null,"labelExpr":"datum.label+' S/m'","encoding":{"symbols":{"shape":{"value":{"expr":"indexof(['1E-6','0.01'],datum.value)>=0?'M-4.8,0H4.8M-1,-1H1V1H-1Z':indexof(['1E-5','1'],datum.value)>=0?'M-4.8,0H4.8M-1,-1L1,1M-1,1L1,-1M0,-1.2V1.2':indexof(['1E-4','10'],datum.value)>=0?'M-4.8,0H4.8M0,-1.2L1.1,0.8H-1.1Z':'M-4.8,0H4.8M-1,0A1,1,0,1,0,1,0A1,1,0,1,0,-1,0Z'"}},"stroke":{"value":{"expr":"datum.value=='1E-6'?'#4472C4':datum.value=='1E-5'?'#ED7D31':datum.value=='1E-4'?'#A5A5A5':datum.value=='0.001'?'#FFC000':datum.value=='0.01'?'#5B9BD5':datum.value=='1'?'#70AD47':datum.value=='10'?'#264478':'#9E480E'"}},"fill":{"value":{"expr":"indexof(['0.01','10','100'],datum.value)>=0?'white':(datum.value=='1E-6'?'#4472C4':datum.value=='1E-5'?'#ED7D31':datum.value=='1E-4'?'#A5A5A5':datum.value=='0.001'?'#FFC000':'#70AD47')"}},"strokeDash":{"value":{"expr":"datum.value=='0.001'?[3,1.5]:[1,0]"}},"size":{"value":25},"opacity":{"value":1},"strokeWidth":{"value":1.5}}}}},
  "strokeDash":{"field":"s","type":"nominal","scale":{"domain":["1E-6","1E-5","1E-4","0.001","0.01","1","10","100"],"range":[[1,0],[1,0],[1,0],[4,2],[1,0],[1,0],[1,0],[1,0]]},"legend":null}}},
 {"transform":[{"filter":"datum.s=='1E-6'"}],"mark":{"type":"point","shape":"square","filled":true,"size":20,"opacity":1},"encoding":{"x":{"field":"f","type":"quantitative"},"y":{"field":"v","type":"quantitative"},"color":{"field":"s","type":"nominal","legend":null}}},
 {"transform":[{"filter":"datum.s=='1E-5'"}],"mark":{"type":"point","shape":"M-1,0H1M0,-1V1M-0.7,-0.7L0.7,0.7M-0.7,0.7L0.7,-0.7","filled":false,"size":20,"opacity":1,"strokeWidth":1},"encoding":{"x":{"field":"f","type":"quantitative"},"y":{"field":"v","type":"quantitative"},"color":{"field":"s","type":"nominal","legend":null}}},
 {"transform":[{"filter":"datum.s=='1E-4'"}],"mark":{"type":"point","shape":"triangle-up","filled":true,"size":20,"opacity":1},"encoding":{"x":{"field":"f","type":"quantitative"},"y":{"field":"v","type":"quantitative"},"color":{"field":"s","type":"nominal","legend":null}}},
 {"transform":[{"filter":"datum.s=='0.001'"}],"mark":{"type":"point","shape":"circle","filled":true,"size":20,"opacity":1},"encoding":{"x":{"field":"f","type":"quantitative"},"y":{"field":"v","type":"quantitative"},"color":{"field":"s","type":"nominal","legend":null}}},
 {"transform":[{"filter":"datum.s=='0.01'"}],"mark":{"type":"point","shape":"square","filled":false,"fill":"white","size":20,"opacity":1,"strokeWidth":1},"encoding":{"x":{"field":"f","type":"quantitative"},"y":{"field":"v","type":"quantitative"},"color":{"field":"s","type":"nominal","legend":null}}},
 {"transform":[{"filter":"datum.s=='1'"}],"mark":{"type":"point","shape":"M-1,0H1M0,-1V1M-0.7,-0.7L0.7,0.7M-0.7,0.7L0.7,-0.7","filled":false,"size":20,"opacity":1,"strokeWidth":1},"encoding":{"x":{"field":"f","type":"quantitative"},"y":{"field":"v","type":"quantitative"},"color":{"field":"s","type":"nominal","legend":null}}},
 {"transform":[{"filter":"datum.s=='10'"}],"mark":{"type":"point","shape":"triangle-up","filled":false,"fill":"white","size":20,"opacity":1,"strokeWidth":1},"encoding":{"x":{"field":"f","type":"quantitative"},"y":{"field":"v","type":"quantitative"},"color":{"field":"s","type":"nominal","legend":null}}},
 {"transform":[{"filter":"datum.s=='100'"}],"mark":{"type":"point","shape":"circle","filled":false,"fill":"white","size":20,"opacity":1,"strokeWidth":1},"encoding":{"x":{"field":"f","type":"quantitative"},"y":{"field":"v","type":"quantitative"},"color":{"field":"s","type":"nominal","legend":null}}}
]}
]
}
